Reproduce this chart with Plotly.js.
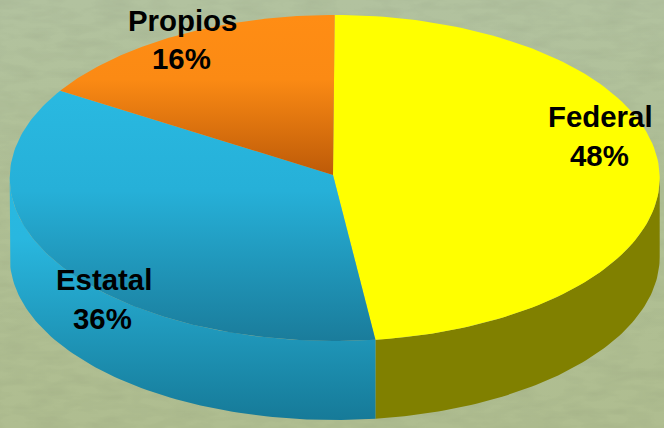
<!DOCTYPE html>
<html><head><meta charset="utf-8">
<script src="https://cdn.plot.ly/plotly-3.0.1.min.js"></script>
<style>
html,body{margin:0;padding:0;width:664px;height:428px;overflow:hidden;background:#b0bf98}
#bg{position:absolute;left:0;top:0}
#chart{position:absolute;left:0;top:0;width:664px;height:428px}
</style></head><body>
<svg id="bg" width="664" height="428">
<defs>
<linearGradient id="g" x1="0" y1="0" x2="0" y2="1"><stop offset="0" stop-color="#b2c29f"/><stop offset="0.5" stop-color="#b0c095"/><stop offset="1" stop-color="#afbd90"/></linearGradient>
<filter id="t" x="0" y="0" width="100%" height="100%"><feTurbulence type="fractalNoise" baseFrequency="0.03 0.1" numOctaves="3" seed="4"/><feColorMatrix values="0 0 0 0 0  0 0 0 0 0  0 0 0 0 0  0.5 0 0 0 -0.17"/></filter>
</defs>
<rect width="664" height="428" fill="url(#g)"/>
<rect width="664" height="428" filter="url(#t)" opacity="0.15"/>
</svg>
<div id="chart"></div>
<script>
var categories = ['Federal', 'Estatal', 'Propios'];
var shares = [48, 36, 16];
var topColors = [
  [[0,'#ffff00'],[1,'#ffff00']],
  [[0,'#29b9e1'],[0.4,'#26b0d8'],[1,'#1a7c9b']],
  [[0,'#ff8d14'],[0.4,'#fb8a14'],[1,'#bd5a08']]
];
var wallColors = [
  [[0,'#808000'],[1,'#808000']],
  [[0,'#29b9e1'],[0.25,'#29b7df'],[1,'#167a98']],
  null
];
var labelPos = [[600,116,599,155],[104,279,102,318],[182,20,181,58]];

var cx = 334.7, cy = 178, rx = 325, ry = 163, depth = 79, apexX = 333, apexY = 175;
function pt(frac, dy){
  var a = frac * 2 * Math.PI;
  return [cx + rx * Math.sin(a), cy - ry * Math.cos(a) + (dy || 0)];
}
function grad(c, a, b){ return {type:'vertical', colorscale:c, start:a, stop:b}; }

var total = shares.reduce(function(s,v){return s+v;},0);
var traces = [], annotations = [], acc = 0;
var spans = shares.map(function(v){ var s = [acc/total, (acc+v)/total]; acc += v; return s; });

// side walls: only the front half of the ellipse is visible
spans.forEach(function(sp,i){
  if(!wallColors[i]) return;
  var a = Math.max(sp[0], 0.25), b = Math.min(sp[1], 0.75);
  if(b <= a) return;
  var xs = [], ys = [], n = 80, k, p;
  for(k=0;k<=n;k++){ p = pt(a+(b-a)*k/n, 0); xs.push(p[0]); ys.push(p[1]); }
  for(k=n;k>=0;k--){ p = pt(a+(b-a)*k/n, depth); xs.push(p[0]); ys.push(p[1]); }
  traces.push({x:xs, y:ys, mode:'lines', line:{width:0}, fill:'toself', hoverinfo:'skip', showlegend:false,
    fillcolor:wallColors[i][0][1], fillgradient:grad(wallColors[i], cy, cy+ry+depth)});
});
// top faces
spans.forEach(function(sp,i){
  var xs=[apexX], ys=[apexY], n=120, k, p;
  for(k=0;k<=n;k++){ p = pt(sp[0]+(sp[1]-sp[0])*k/n, 0); xs.push(p[0]); ys.push(p[1]); }
  xs.push(apexX); ys.push(apexY);
  traces.push({x:xs, y:ys, mode:'lines', line:{width:0}, fill:'toself', name:categories[i], hoverinfo:'name', showlegend:false,
    fillcolor:topColors[i][0][1], fillgradient:grad(topColors[i], Math.min.apply(null,ys), Math.max.apply(null,ys))});
});
// labels
categories.forEach(function(c,i){
  [c, shares[i]+'%'].forEach(function(t,j){
    annotations.push({x:labelPos[i][j*2], y:labelPos[i][j*2+1], text:'<b>'+t+'</b>', showarrow:false,
      xref:'x', yref:'y', xanchor:'center', yanchor:'middle',
      font:{family:'Liberation Sans, Arial, sans-serif', size:29.4, color:'#000'}});
  });
});
Plotly.newPlot('chart', traces, {
  width:664, height:428, margin:{l:0,r:0,t:0,b:0},
  paper_bgcolor:'rgba(0,0,0,0)', plot_bgcolor:'rgba(0,0,0,0)', showlegend:false,
  xaxis:{range:[0,664], visible:false, fixedrange:true},
  yaxis:{range:[428,0], visible:false, fixedrange:true},
  annotations:annotations
}, {displayModeBar:false, staticPlot:true});
</script>
</body></html>
